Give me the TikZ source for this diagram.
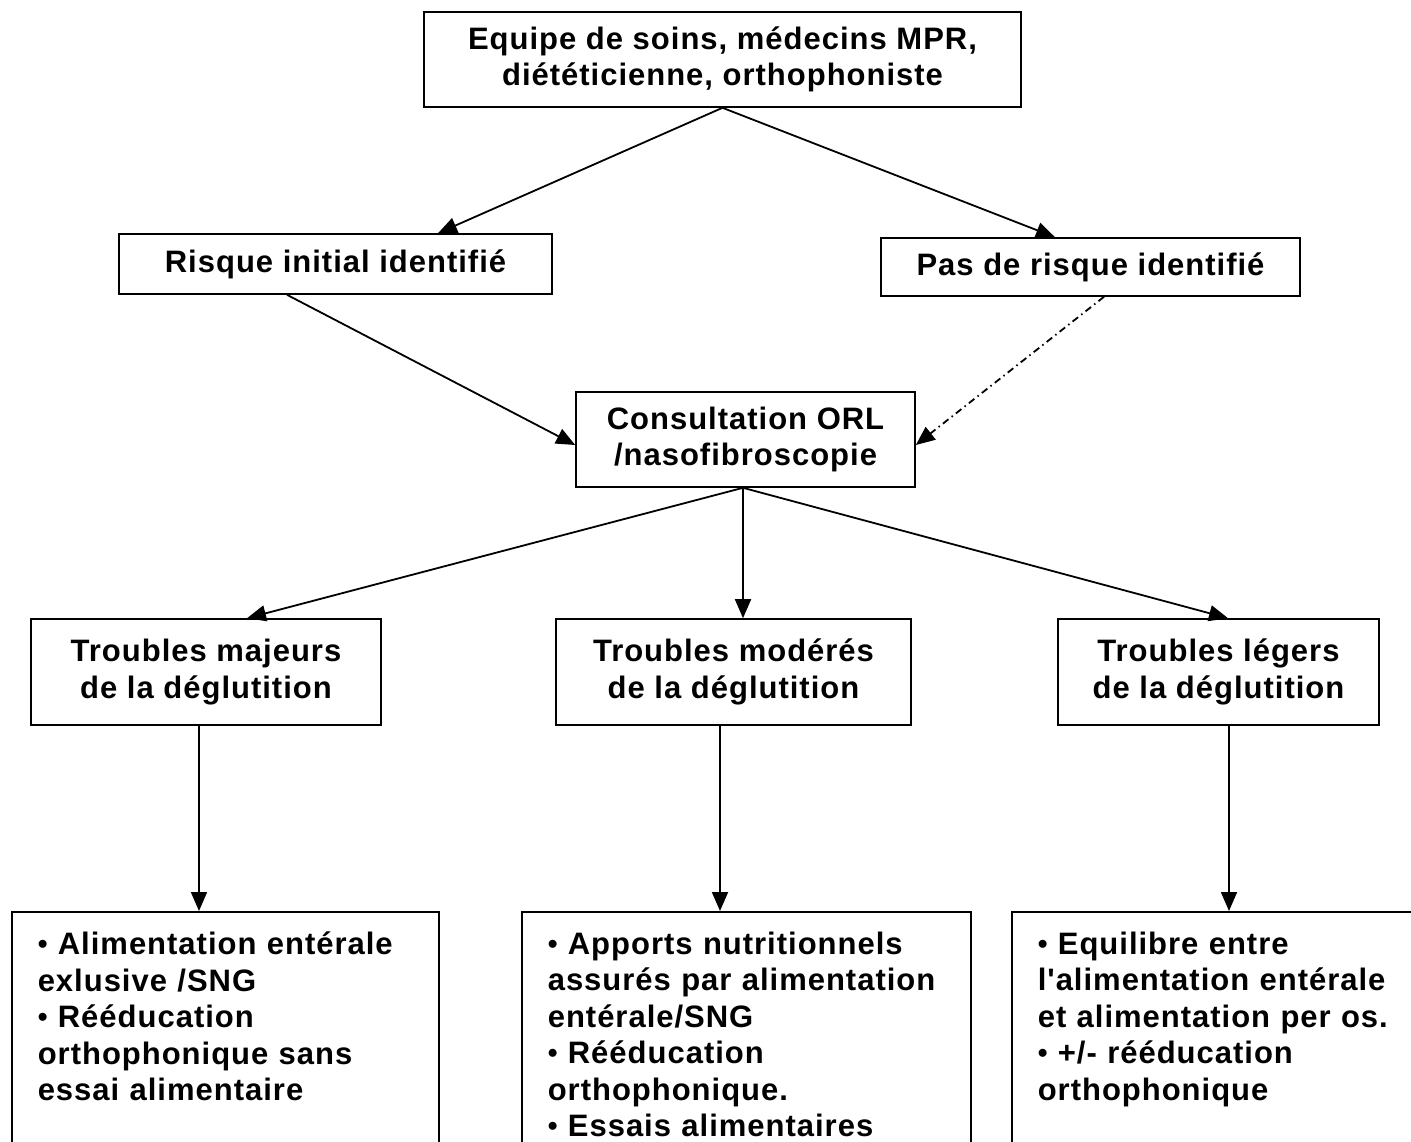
\documentclass[tikz,border=0pt]{standalone}
\usepackage{fontspec}
\setmainfont{Liberation Sans}
\newfontfamily\boxfont[LetterSpace=3.2]{Liberation Sans}
\usetikzlibrary{arrows.meta}
% list bullet, a little smaller than the font's own
\newcommand\listdot{\raisebox{0.9pt}{\scalebox{0.9}{•}}}
\begin{document}
\begin{tikzpicture}[x=1pt,y=-1pt,
  box/.style={draw, line width=1.6pt, rectangle, inner sep=0pt, align=center,
    font=\boxfont\bfseries\fontsize{31}{36.5}\selectfont},
  listbox/.style={draw, line width=1.6pt, rectangle, anchor=north west, align=left,
    inner xsep=26pt, inner ysep=20pt, text depth=300pt,
    font=\boxfont\bfseries\fontsize{31}{36.5}\selectfont},
  link/.style={line width=1.8pt, -{Triangle[length=19pt,width=16pt]}},
  dashlink/.style={link, dash pattern=on 7pt off 4pt on 1.5pt off 4pt}]
\useasboundingbox (0,0) rectangle (1411,1141);
\clip (0,0) rectangle (1411,1141);

% boxes
\node[box, minimum width=597pt, minimum height=95pt] (team) at (722.5,59.5)
  {Equipe de soins, médecins MPR,\\diététicienne, orthophoniste};
\node[box, minimum width=433pt, minimum height=60pt] (risk) at (335.5,264)
  {Risque initial identifié};
\node[box, minimum width=419pt, minimum height=58pt] (norisk) at (1090.5,267)
  {Pas de risque identifié};
\node[box, minimum width=339pt, minimum height=95pt] (orl) at (745.5,439.5)
  {Consultation ORL\\/nasofibroscopie};
\node[box, minimum width=350pt, minimum height=106pt] (maj) at (206,672)
  {Troubles majeurs\\de la déglutition};
\node[box, minimum width=355pt, minimum height=106pt] (mod) at (733.5,672)
  {Troubles modérés\\de la déglutition};
\node[box, minimum width=321pt, minimum height=106pt] (leg) at (1218.5,672)
  {Troubles légers\\de la déglutition};

\node[listbox, text width=375pt] (b1) at (11,911)
  {\listdot{} Alimentation entérale\\exlusive /SNG\\\listdot{} Rééducation\\orthophonique sans\\essai alimentaire};
\node[listbox, text width=397pt] (b2) at (521,911)
  {\listdot{} Apports nutritionnels\\assurés par alimentation\\entérale/SNG\\\listdot{} Rééducation\\orthophonique.\\\listdot{} Essais alimentaires};
\node[listbox, text width=378pt] (b3) at (1011,911)
  {\listdot{} Equilibre entre\\l'alimentation entérale\\et alimentation per os.\\\listdot{} +/- rééducation\\orthophonique};

% connectors
\draw[link] (team.south) -- ([xshift=102.5pt]risk.north);
\draw[link] (team.south) -- ([xshift=-35.5pt]norisk.north);
\draw[link] ([xshift=-48.5pt]risk.south) -- ([yshift=-5.5pt]orl.west);
\draw[dashlink] ([xshift=13.5pt]norisk.south) -- ([yshift=-5.5pt]orl.east);
\draw[link] ([xshift=-2.5pt]orl.south) -- ([xshift=41pt]maj.north);
\draw[link] ([xshift=-2.5pt]orl.south) -- ([xshift=9.5pt]mod.north);
\draw[link] ([xshift=-2.5pt]orl.south) -- ([xshift=9.5pt]leg.north);
\draw[link] ([xshift=-7pt]maj.south) -- ([xshift=-7pt]maj.south |- b1.north);
\draw[link] ([xshift=-13.5pt]mod.south) -- ([xshift=-13.5pt]mod.south |- b2.north);
\draw[link] ([xshift=10.5pt]leg.south) -- ([xshift=10.5pt]leg.south |- b3.north);
\end{tikzpicture}
\end{document}
